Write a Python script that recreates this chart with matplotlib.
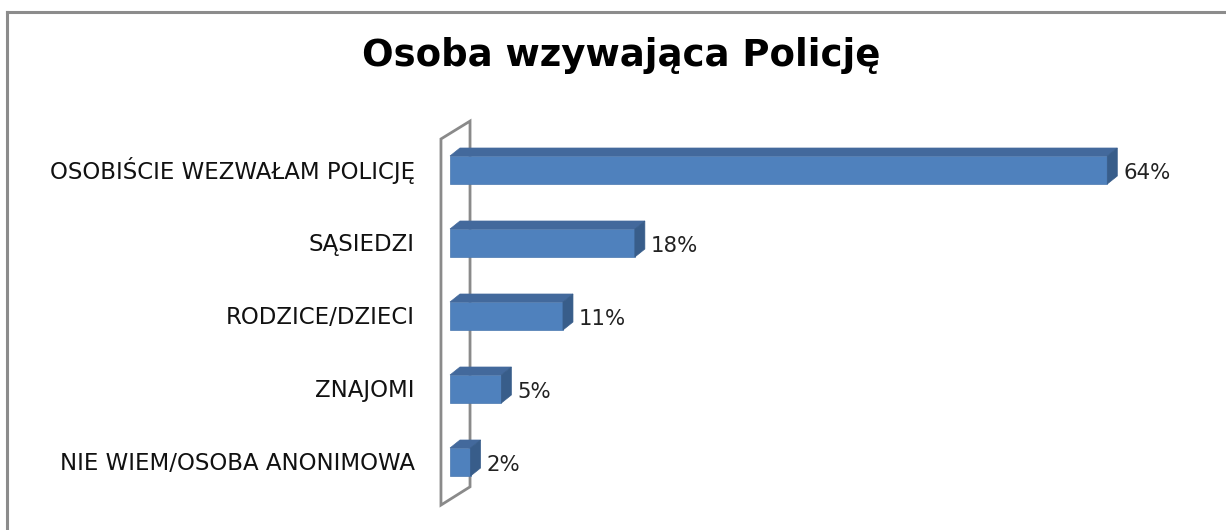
import matplotlib
matplotlib.use("Agg")
import matplotlib.pyplot as plt
from matplotlib.patches import Polygon
from matplotlib.lines import Line2D

categories = ["OSOBIŚCIE WEZWAŁAM POLICJĘ", "SĄSIEDZI", "RODZICE/DZIECI", "ZNAJOMI",
              "NIE WIEM/OSOBA ANONIMOWA"]
values = [64, 18, 11, 5, 2]
value_labels = ["64%", "18%", "11%", "5%", "2%"]
title = "Osoba wzywająca Policję"

W, H = 1226, 530
fig = plt.figure(figsize=(W / 100, H / 100), dpi=100)
fig.patch.set_facecolor("white")

# outer frame (top and left edges only visible)
fig.add_artist(Line2D([7 / W, 7 / W], [0, 1 - 12 / H], color="#8c8c8c", lw=2.2,
                      transform=fig.transFigure))
fig.add_artist(Line2D([7 / W, 1], [1 - 12 / H, 1 - 12 / H], color="#8c8c8c", lw=2.2,
                      transform=fig.transFigure))

# axes mapping: x=0 -> px 450, 10.27 px per %; category i center -> px 170 + 73*i
pxu = 10.27
x0px = 450
xmin, xmax = -1.5, 70
left_px = x0px + xmin * pxu
right_px = x0px + xmax * pxu
ymin_d, ymax_d = -0.8, 4.8
top_px = 170 + 73 * ymin_d
bot_px = 170 + 73 * ymax_d
ax = fig.add_axes([left_px / W, 1 - bot_px / H, (right_px - left_px) / W, (bot_px - top_px) / H])
ax.set_xlim(xmin, xmax)
ax.set_ylim(ymax_d, ymin_d)
ax.axis("off")

# back wall outline (parallelogram)
wall = Polygon([(-0.88, -0.425), (1.95, -0.67), (1.95, 4.34), (-0.88, 4.59)], closed=True,
               fill=False, edgecolor="#8a8a8a", lw=2.0, zorder=1)
ax.add_patch(wall)

front_c = "#4F81BD"
top_c = "#43699C"
side_c = "#385D8A"
bh = 28 / 73
dx = 10 / pxu
dy = 8 / 73

ys = list(range(len(categories)))
ax.barh(ys, values, height=bh, color=front_c, edgecolor="#4A78B0", lw=0.5, zorder=3)
for y, v, lab in zip(ys, values, value_labels):
    yt = y - bh / 2
    yb = y + bh / 2
    ax.add_patch(Polygon([(0, yt), (dx, yt - dy), (v + dx, yt - dy), (v, yt)],
                         closed=True, facecolor=top_c, edgecolor=top_c, lw=0.5, zorder=3))
    ax.add_patch(Polygon([(v, yt), (v + dx, yt - dy), (v + dx, yb - dy), (v, yb)],
                         closed=True, facecolor=side_c, edgecolor=side_c, lw=0.5, zorder=3))
    ax.text(v + dx + 0.6, y + 0.04, lab, ha="left", va="center", fontsize=15.3,
            family="DejaVu Sans", color="#222222", zorder=4)

for y, c in zip(ys, categories):
    fig.text(415 / W, 1 - (170 + 73 * y + 1) / H, c, ha="right", va="center", fontsize=16.5,
             family="DejaVu Sans", color="#111111")

fig.text(621 / W, 1 - 56 / H, title, ha="center", va="center", fontsize=26.7,
         family="DejaVu Sans", weight="bold", color="black")

fig.savefig("out.png", dpi=100, facecolor="white")
